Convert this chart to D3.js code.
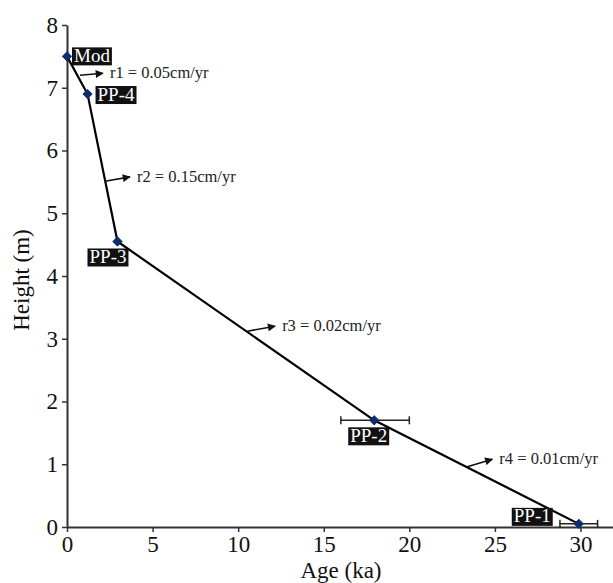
<!DOCTYPE html>
<html>
<head>
<meta charset="utf-8">
<script src="https://cdn.jsdelivr.net/npm/d3@7"></script>
<style>
  body { margin: 0; background: #fff; }
  svg { display: block; }
  svg text { font-family: 'Liberation Serif', 'Times New Roman', serif !important; }
</style>
</head>
<body>
<svg id="chart" width="613" height="583"></svg>
<script>
// samples along the profile
var names = ["Mod", "PP-4", "PP-3", "PP-2", "PP-1"];
var ages = [0, 1.2, 2.95, 17.95, 29.9];
var heights = [7.5, 6.9, 4.55, 1.7, 0.05];
var errLo = [null, null, null, 16, 28.8];
var errHi = [null, null, null, 20, 31];

// rate annotations (arrow from -> to in data units, text after arrow)
var rateLabels = ["r1 = 0.05cm/yr", "r2 = 0.15cm/yr", "r3 = 0.02cm/yr", "r4 = 0.01cm/yr"];
var rateFrom = [[0.76, 7.2], [2.22, 5.51], [10.53, 3.12], [23.39, 0.96]];
var rateTo = [[2.1, 7.23], [3.68, 5.58], [12.16, 3.2], [24.85, 1.08]];

var xTicks = [0, 5, 10, 15, 20, 25, 30];
var yTicks = [0, 1, 2, 3, 4, 5, 6, 7, 8];

var serif = "'Liberation Serif', 'Times New Roman', serif";
var svg = d3.select("#chart");

var x = d3.scaleLinear().domain([0, 31.9]).range([67, 613]);
var y = d3.scaleLinear().domain([0, 8]).range([527, 25]);

var data = names.map(function(n, i) {
  return { name: n, age: ages[i], h: heights[i], lo: errLo[i], hi: errHi[i] };
});

// axes
var xAxis = svg.append("g")
  .attr("transform", "translate(0," + y(0) + ")")
  .call(d3.axisBottom(x).tickValues(xTicks).tickSize(5).tickSizeOuter(0).tickPadding(4));
var yAxis = svg.append("g")
  .attr("transform", "translate(" + x(0) + ",0)")
  .call(d3.axisLeft(y).tickValues(yTicks).tickSize(5).tickSizeOuter(0).tickPadding(4));

[xAxis, yAxis].forEach(function(a) {
  a.attr("font-family", serif).attr("font-size", 23);
  a.select(".domain").attr("stroke", "#333").attr("stroke-width", 2);
  a.selectAll(".tick line").attr("stroke", "#333").attr("stroke-width", 1.5);
  a.selectAll(".tick text").attr("fill", "#111");
});

svg.append("text")
  .attr("x", 341).attr("y", 578)
  .attr("text-anchor", "middle")
  .attr("font-family", serif)
  .attr("font-size", 23)
  .attr("fill", "#111")
  .text("Age (ka)");

svg.append("text")
  .attr("transform", "translate(29,280) rotate(-90)")
  .attr("text-anchor", "middle")
  .attr("font-family", serif)
  .attr("font-size", 23)
  .attr("fill", "#111")
  .text("Height (m)");

// error bars
var eb = data.filter(function(d) { return d.lo != null; });
eb.forEach(function(d) {
  var g = svg.append("g").attr("stroke", "#222").attr("stroke-width", 1.5);
  g.append("line").attr("x1", x(d.lo)).attr("x2", x(d.hi)).attr("y1", y(d.h)).attr("y2", y(d.h));
  g.append("line").attr("x1", x(d.lo)).attr("x2", x(d.lo)).attr("y1", y(d.h) - 4).attr("y2", y(d.h) + 4);
  g.append("line").attr("x1", x(d.hi)).attr("x2", x(d.hi)).attr("y1", y(d.h) - 4).attr("y2", y(d.h) + 4);
});

// profile line
var line = d3.line().x(function(d) { return x(d.age); }).y(function(d) { return y(d.h); });
svg.append("path")
  .datum(data)
  .attr("d", line)
  .attr("fill", "none")
  .attr("stroke", "#000")
  .attr("stroke-width", 2.2);

// markers
svg.selectAll(".pt")
  .data(data)
  .enter().append("path")
  .attr("class", "pt")
  .attr("d", d3.symbol().type(d3.symbolDiamond2).size(55))
  .attr("transform", function(d) { return "translate(" + x(d.age) + "," + y(d.h) + ")"; })
  .attr("fill", "#0b2c6e")
  .attr("stroke", "#0b2c6e")
  .attr("stroke-width", 1);

// sample labels (offsets in px from the point: box left, box top)
var labelOffsets = [[5, -9], [8, -8], [-30, 7], [-26, 7], [-67, -16]];
data.forEach(function(d, i) {
  var g = svg.append("g")
    .attr("transform", "translate(" + (x(d.age) + labelOffsets[i][0]) + "," + (y(d.h) + labelOffsets[i][1]) + ")");
  var t = g.append("text")
    .attr("x", 2).attr("y", 14.5)
    .attr("fill", "#fff")
    .attr("font-family", serif)
    .attr("font-size", 19)
    .text(d.name);
  var w = t.node().getComputedTextLength();
  g.insert("rect", "text")
    .attr("width", w + 4).attr("height", 18)
    .attr("fill", "#111");
});

// arrows
svg.append("defs").append("marker")
  .attr("id", "arr")
  .attr("viewBox", "0 0 10 10")
  .attr("refX", 9).attr("refY", 5)
  .attr("markerWidth", 10).attr("markerHeight", 8)
  .attr("markerUnits", "userSpaceOnUse")
  .attr("orient", "auto")
  .append("path")
  .attr("d", "M0,0 L10,5 L0,10 Z")
  .attr("fill", "#111");

rateLabels.forEach(function(lbl, i) {
  var x1 = x(rateFrom[i][0]), y1 = y(rateFrom[i][1]);
  var x2 = x(rateTo[i][0]), y2 = y(rateTo[i][1]);
  svg.append("line")
    .attr("x1", x1).attr("y1", y1).attr("x2", x2).attr("y2", y2)
    .attr("stroke", "#111").attr("stroke-width", 1.6)
    .attr("marker-end", "url(#arr)");
  svg.append("text")
    .attr("x", x2 + 7).attr("y", y2 + 5)
    .attr("fill", "#222")
    .attr("font-family", serif)
    .attr("font-size", 16.5)
    .text(lbl);
});
</script>
</body>
</html>
